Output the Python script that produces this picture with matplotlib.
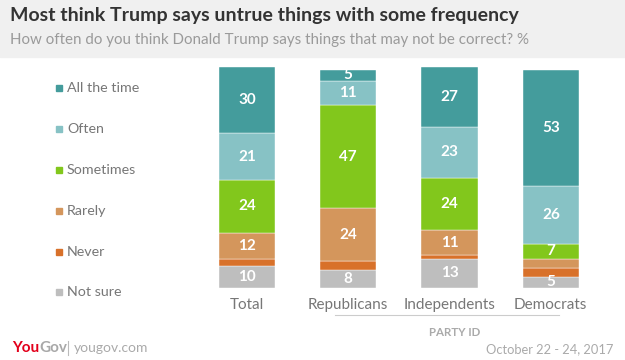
"""
Stacked bar chart: how often Trump says untrue things.
"""
import matplotlib.pyplot as plt
import numpy as np
from matplotlib.patches import Rectangle

plt.rcParams['font.family'] = ['Lato', 'DejaVu Sans']

groups = ['Total', 'Republicans', 'Independents', 'Democrats']
answers = ['All the time', 'Often', 'Sometimes', 'Rarely', 'Never', 'Not sure']
colours = ['#449c9c', '#87c2c5', '#82c71c', '#d4965c', '#d8712a', '#bebebe']

all_the_time = [30, 5, 27, 53]
often = [21, 11, 23, 26]
sometimes = [24, 47, 24, 7]
rarely = [12, 24, 11, 4]
never = [3, 4, 2, 4]
not_sure = [10, 8, 13, 5]

series = [all_the_time, often, sometimes, rarely, never, not_sure]

W, H = 625, 360


def fx(px):
    return px / W


def fy(py):
    return 1 - py / H


fig = plt.figure(figsize=(6.25, 3.6), dpi=100)
fig.patch.set_facecolor('white')

# grey header band
fig.patches.append(Rectangle((0, fy(57)), 1, 57 / H,
                             transform=fig.transFigure, color='#f0f0f0',
                             zorder=0))
fig.text(fx(10), fy(15.5), 'Most think Trump says untrue things with some frequency',
         fontsize=14, fontweight='bold', color='#333333', va='center')
fig.text(fx(10), fy(40), 'How often do you think Donald Trump says things that may not be correct? %',
         fontsize=10.9, color='#9a9a9a', va='center')

ax = fig.add_axes([fx(196.2), 72.3 / H, 405.3 / W, 220.4 / H])
ax.set_xlim(-0.5, 3.5)
ax.set_ylim(0, 100)
ax.axis('off')

x = np.arange(len(groups))
bottom = np.zeros(len(groups))
for name, vals, col in zip(answers[::-1], series[::-1], colours[::-1]):
    vals = np.array(vals)
    ax.bar(x, vals, width=0.553, bottom=bottom, color=col,
           edgecolor='white', linewidth=0.3)
    if name != 'Never':
        for xi, b, v in zip(x, bottom, vals):
            if v >= 5:
                ax.text(xi, b + v / 2, str(v), ha='center', va='center',
                        color='white', fontsize=11, fontweight='bold')
    bottom += vals

for xi, g in zip(x, groups):
    fig.text(fx(196.2 + (xi + 0.5) * 101.3), fy(305), g,
             ha='center', va='center', fontsize=11, color='#777777')

# party id bracket
fig.add_artist(plt.Line2D([fx(335), fx(559)], [fy(315), fy(315)],
                          color='#cccccc', linewidth=0.8))
fig.text(fx(455), fy(332), 'PARTY ID', ha='center', va='center',
         fontsize=8.3, fontweight='bold', color='#aaaaaa')

# legend
for i, (name, col) in enumerate(zip(answers, colours)):
    yy = 88.3 + i * 40.8
    fig.patches.append(Rectangle((fx(56), fy(yy + 3)), 6 / W, 6 / H,
                                 transform=fig.transFigure, color=col))
    fig.text(fx(67), fy(yy), name, va='center', fontsize=10.3, color='#777777')

# footer
renderer = fig.canvas.get_renderer()
t = fig.text(fx(12), fy(348), 'You', fontsize=11, fontweight='bold',
             color='#e3001b', va='center')
end = t.get_window_extent(renderer).x1
t = fig.text(end / W, fy(348), 'Gov', fontsize=11, fontweight='bold',
             color='#a8a8a8', va='center')
fig.add_artist(plt.Line2D([fx(68), fx(68)], [fy(341), fy(355)],
                          color='#bbbbbb', linewidth=0.8))
fig.text(fx(74), fy(348), 'yougov.com', fontsize=10, color='#aaaaaa',
         va='center')
fig.text(fx(613), fy(349), 'October 22 - 24, 2017', fontsize=9.3,
         color='#aaaaaa', va='center', ha='right')

fig.savefig('out.png', dpi=100)
